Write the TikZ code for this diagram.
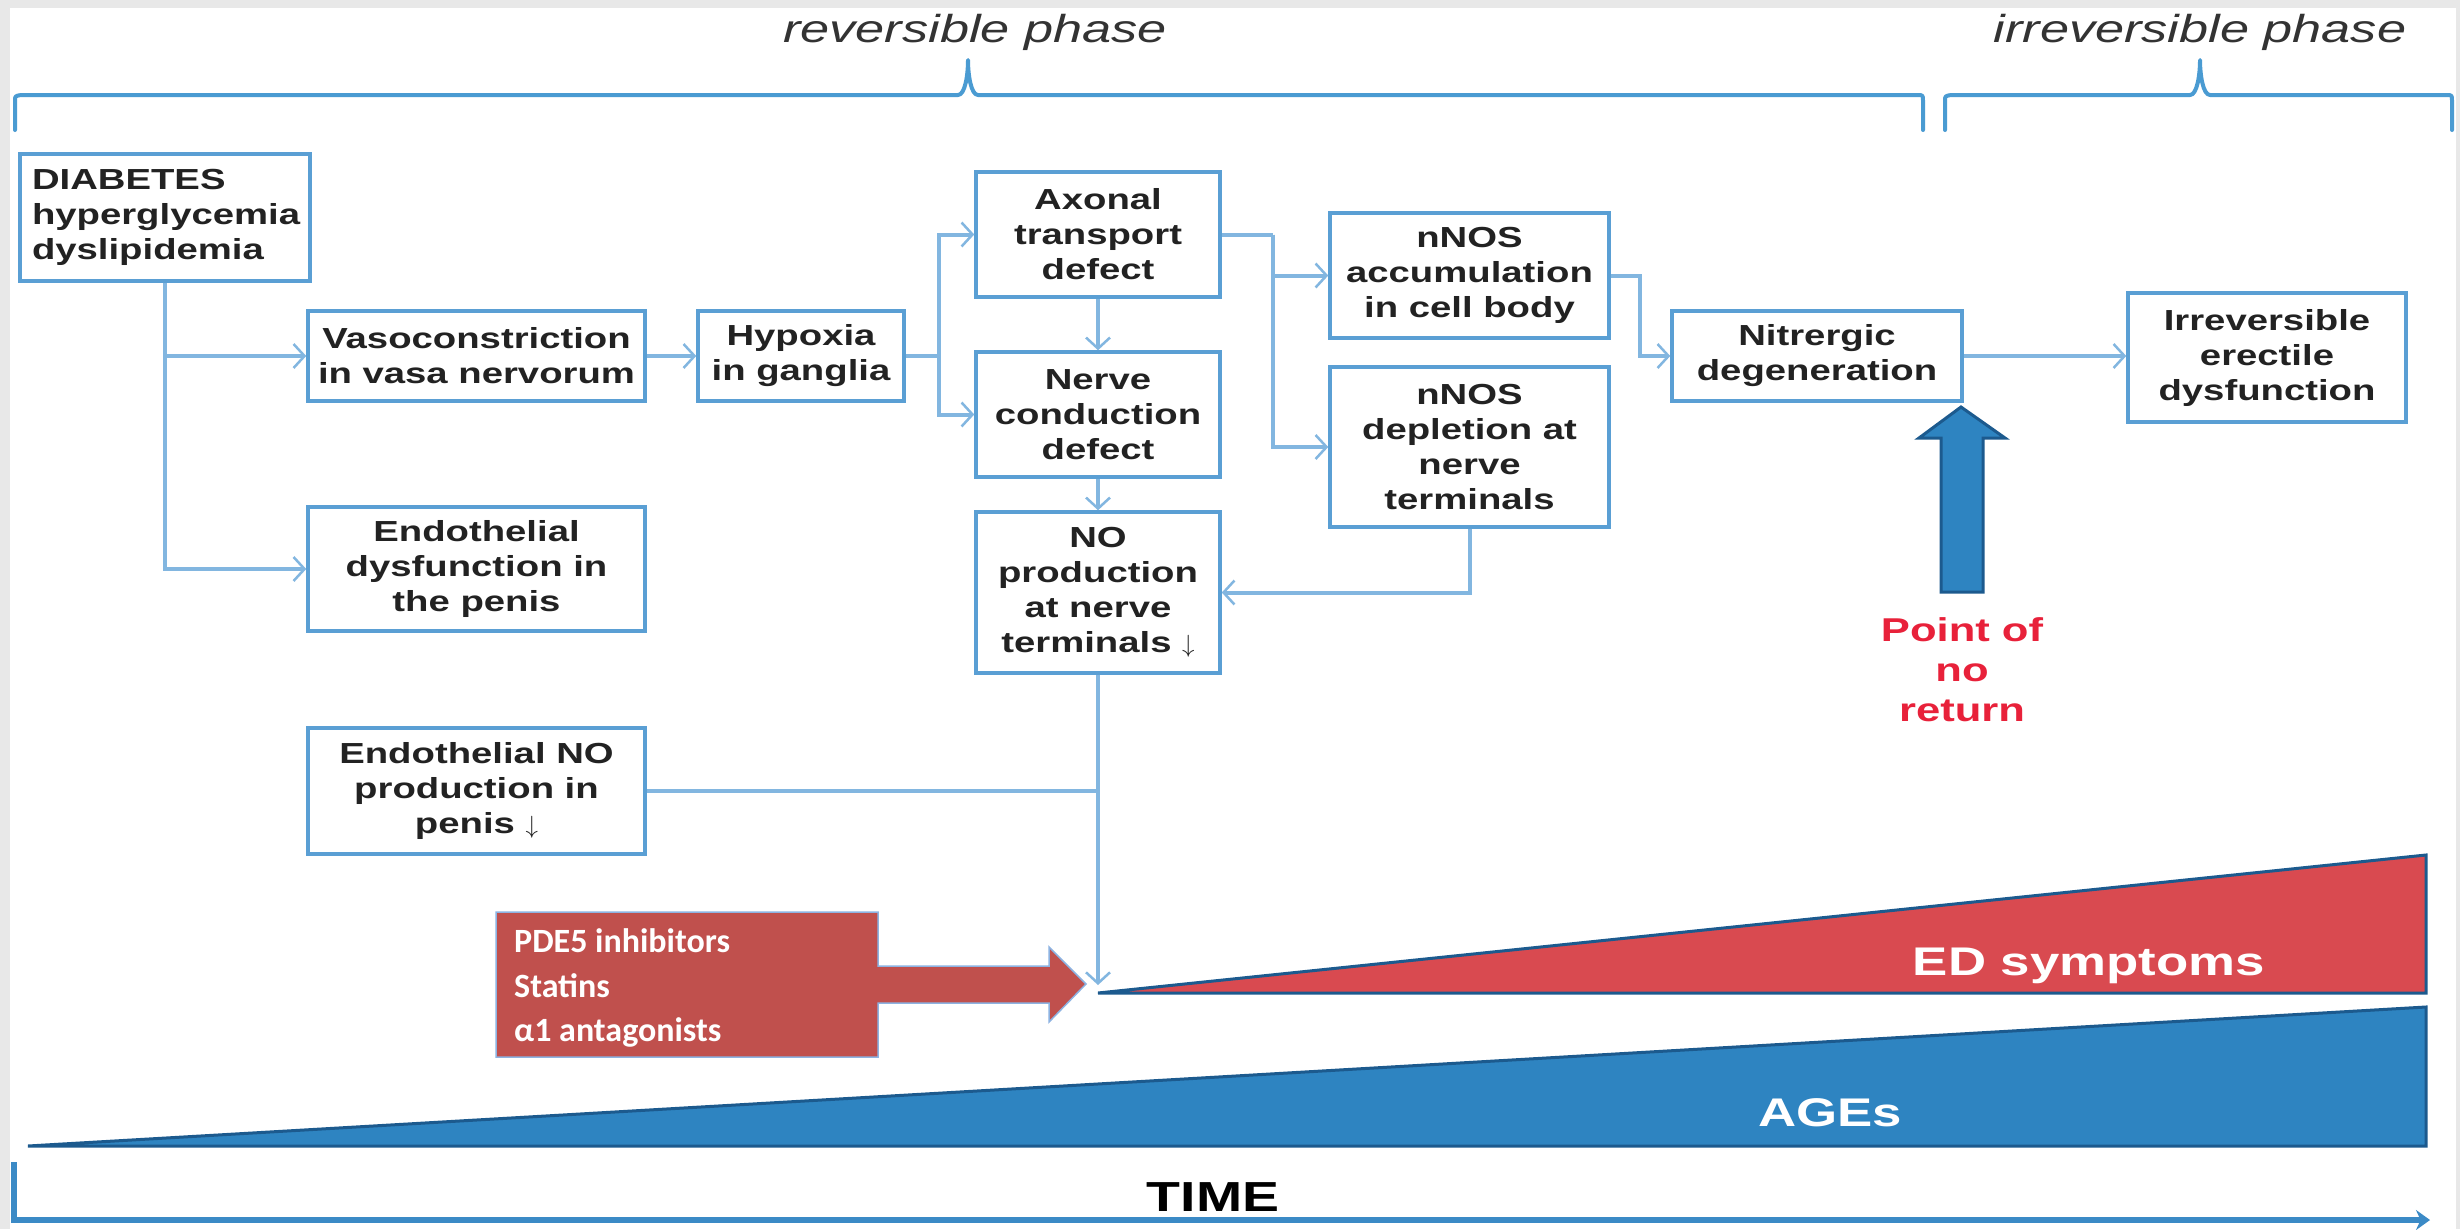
\documentclass[tikz,border=0pt]{standalone}
\usepackage{fontspec}
\setmainfont{Liberation Sans}
\newfontfamily\boxfont[FakeStretch=1.32]{Liberation Sans}
\newfontfamily\phasefont[FakeStretch=1.34]{Liberation Sans}
\newfontfamily\pdefont{Carlito}
\usetikzlibrary{arrows.meta}
\definecolor{bordergray}{HTML}{E8E8E8}
\definecolor{boxblue}{HTML}{5A9FD4}
\definecolor{linkblue}{HTML}{82B6E0}
\definecolor{bracecol}{HTML}{4A9BD2}
\definecolor{txtdark}{HTML}{222222}
\definecolor{txtgray}{HTML}{333333}
\definecolor{pdered}{HTML}{C0504D}
\definecolor{pdeline}{HTML}{8DB3E2}
\definecolor{edred}{HTML}{D94A50}
\definecolor{agesblue}{HTML}{2E84C1}
\definecolor{darkblue}{HTML}{1C5A8E}
\definecolor{ponr}{HTML}{E8213A}
\definecolor{axisblue}{HTML}{3B8AC6}
\newcommand{\dnarrow}{\mbox{\fontsize{29}{35}\selectfont$\downarrow$}}
\tikzset{
  flowbox/.style={draw=boxblue, line width=3.5pt, fill=white, inner sep=0pt, align=center,
    text=txtdark, font=\boxfont\bfseries\fontsize{29}{35}\selectfont},
  link/.style={draw=linkblue, line width=4pt},
  linkarrow/.style={link, -{Straight Barb[length=11pt,width=24pt,line width=2.5pt]}},
  bracepath/.style={draw=bracecol, line width=4pt, line cap=round, line join=round},
  phaselabel/.style={font=\phasefont\itshape\fontsize{39}{45}\selectfont, text=txtgray, anchor=base, inner sep=0pt},
  whitelabel/.style={font=\boxfont\bfseries\fontsize{40}{48}\selectfont, text=white, inner sep=0pt},
  wedge/.style={draw=darkblue, line width=3pt, line join=miter},
}
\begin{document}
\begin{tikzpicture}[x=1pt,y=-1pt]
\useasboundingbox (0,0) rectangle (2460,1229);
\fill[bordergray] (0,0) rectangle (2460,1229);
\fill[white] (10,8) rectangle (2456,1229);

% phase braces
\draw[bracepath] (15,130) -- (15,101) .. controls (15,96) .. (21,95) -- (958,95)
  .. controls (965,95) and (968,75) .. (968,60) .. controls (968,75) and (971,95) .. (978,95)
  -- (1917,95) .. controls (1923,95) .. (1923,101) -- (1923,130);
\draw[bracepath] (1945,130) -- (1945,101) .. controls (1945,96) .. (1951,95) -- (2190,95)
  .. controls (2197,95) and (2200,75) .. (2200,60) .. controls (2200,75) and (2203,95) .. (2210,95)
  -- (2446,95) .. controls (2452,95) .. (2452,101) -- (2452,130);
\node[phaselabel] (revlab) at (975,42) {reversible phase};
\node[phaselabel] (irrlab) at (2200,42) {irreversible phase};

% wedges
\filldraw[wedge, fill=agesblue] (28,1146) -- (2426,1007) -- (2426,1146) -- cycle;
\filldraw[wedge, fill=edred] (1098,993) -- (2426,855) -- (2426,993) -- cycle;
\node[whitelabel] (edlab) at (2089,966) {ED symptoms};
\node[whitelabel] (ageslab) at (1830,1112.5) {AGEs};

% treatment arrow
\filldraw[fill=pdered, draw=pdeline, line width=1.5pt] (496,912) -- (878,912) -- (878,966) -- (1049,966)
  -- (1049,947) -- (1086,984) -- (1049,1022) -- (1049,1003) -- (878,1003) -- (878,1057) -- (496,1057) -- cycle;
\node[font=\pdefont\bfseries\fontsize{34}{44.5}\selectfont, text=white, align=left, anchor=west, inner sep=0pt]
  (pde) at (514,988) {PDE5 inhibitors\\Statins\\α1 antagonists};

% point of no return
\filldraw[fill=agesblue, draw=darkblue, line width=3pt, line join=miter] (1941,592) -- (1941,438) -- (1919,438)
  -- (1961,407) -- (2005,438) -- (1983,438) -- (1983,592) -- cycle;
\node[font=\boxfont\bfseries\fontsize{33}{40}\selectfont, text=ponr, align=center, inner sep=0pt]
  (ponrlab) at (1962,669.5) {Point of\\no\\return};

% boxes
\node[flowbox, minimum width=290pt, minimum height=127pt, text width=266pt, align=left] (diab) at (165,217.5) {DIABETES\\hyperglycemia\\dyslipidemia};
\node[flowbox, minimum width=337pt, minimum height=90pt] (vaso) at (476.5,356) {Vasoconstriction\\in vasa nervorum};
\node[flowbox, minimum width=206pt, minimum height=90pt] (hyp) at (801,356) {Hypoxia\\in ganglia};
\node[flowbox, minimum width=244pt, minimum height=125pt] (axon) at (1098,234.5) {Axonal\\transport\\defect};
\node[flowbox, minimum width=244pt, minimum height=125pt] (cond) at (1098,414.5) {Nerve\\conduction\\defect};
\node[flowbox, minimum width=244pt, minimum height=161pt] (noprod) at (1098,592.5) {NO\\production\\at nerve\\terminals \dnarrow};
\node[flowbox, minimum width=279pt, minimum height=125pt] (acc) at (1469.5,275.5) {nNOS\\accumulation\\in cell body};
\node[flowbox, minimum width=279pt, minimum height=160pt] (depl) at (1469.5,447) {nNOS\\depletion at\\nerve\\terminals};
\node[flowbox, minimum width=290pt, minimum height=90pt] (nitr) at (1817,356) {Nitrergic\\degeneration};
\node[flowbox, minimum width=278pt, minimum height=129pt] (irr) at (2267,357.5) {Irreversible\\erectile\\dysfunction};
\node[flowbox, minimum width=337pt, minimum height=124pt] (endo) at (476.5,569) {Endothelial\\dysfunction in\\the penis};
\node[flowbox, minimum width=337pt, minimum height=126pt] (endono) at (476.5,791) {Endothelial NO\\production in\\penis \dnarrow};

% connectors
\draw[linkarrow] (diab.south) |- (endo.west);
\draw[linkarrow] (diab.south |- vaso.west) -- (vaso.west);
\draw[linkarrow] (vaso.east) -- (hyp.west);
\coordinate (j1) at (939,356);
\draw[link] (hyp.east) -- (j1);
\draw[linkarrow] (j1) |- (axon.west);
\draw[linkarrow] (j1) |- (cond.west);
\draw[linkarrow] (axon.south) -- (cond.north);
\draw[linkarrow] (cond.south) -- (noprod.north);
\coordinate (j2) at (1273,234.5);
\draw[link] (axon.east) -- (j2);
\draw[linkarrow] (j2) |- (acc.west);
\draw[linkarrow] (j2) |- (depl.west);
\draw[linkarrow] (acc.east) -- ++(29,0) |- (nitr.west);
\draw[linkarrow] (nitr.east) -- (irr.west |- nitr.east);
\draw[linkarrow] (depl.south) |- (noprod.east);
\coordinate (edtip) at (1098,985);
\draw[linkarrow] (noprod.south) -- (edtip);
\draw[link] (endono.east) -- (noprod.south |- endono.east);

% time axis
\coordinate (ax0) at (14,1162);
\coordinate (ax1) at (2430,1220);
\draw[draw=axisblue, line width=6pt, -{Stealth[length=14pt,width=20pt]}] (ax0) |- (ax1);
\node[font=\boxfont\bfseries\fontsize{42}{50}\selectfont, text=black, inner sep=0pt] (time) at (1213,1197) {TIME};
\end{tikzpicture}
\end{document}
